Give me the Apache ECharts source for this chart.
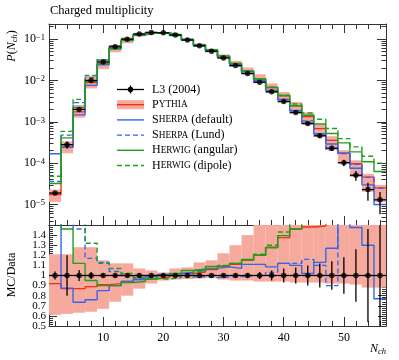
<!DOCTYPE html>
<html lang="en">
<head>
<meta charset="utf-8" />
<title>Charged multiplicity</title>
<script src="https://cdn.jsdelivr.net/npm/echarts@6/dist/echarts.min.js"></script>
<style>
    html, body { margin: 0; padding: 0; background: #fff; }
    #main { width: 399px; height: 360px; }
</style>
</head>
<body>
<div id="main"></div>
<script>
    // bin centres, every bin is 2 units wide
    var nch = [2, 4, 6, 8, 10, 12, 14, 16, 18, 20, 22, 24, 26, 28, 30, 32, 34, 36, 38, 40, 42, 44, 46, 48, 50, 52, 54, 56];

    // L3 (2004) data and its relative error
    var l3 = [1.9e-5, 2.8e-4, 2.0e-3, 1.0e-2, 2.8e-2, 6.5e-2, 0.099, 0.133, 0.145, 0.142, 0.125, 0.095, 0.069, 0.051,
        0.035, 0.023, 0.0147, 0.0091, 0.0053, 0.0031, 0.00168, 0.00091, 0.00046, 0.00023, 1.03e-4, 5.1e-5, 2.3e-5, 1.3e-5];
    var l3RelErr = [0.04, 0.2, 0.055, 0.035, 0.02, 0.015, 0.01, 0.01, 0.01, 0.01, 0.01, 0.01, 0.01, 0.012,
        0.015, 0.02, 0.025, 0.035, 0.05, 0.07, 0.08, 0.1, 0.12, 0.14, 0.18, 0.26, 0.46, 0.55];

    // MC / Data (off-scale bins)
    var pythiaRatio = [0.92, 0.87, 0.87, 0.89, 0.91, 0.92, 0.94, 0.96, 0.97, 0.98, 1.0, 1.02, 1.035, 1.06,
        1.09, 1.11, 1.15, 1.2, 1.28, 1.375, 1.46, 1.48, 1.49, 1.55, 1.7, 1.9, 2.0, 1.95];
    var pythiaBandLo = [0.61, 0.62, 0.63, 0.64, 0.67, 0.74, 0.8, 0.87, 0.92, 0.95, 0.96, 0.965, 0.97, 0.975,
        0.96, 0.95, 0.95, 0.94, 0.94, 0.94, 0.93, 0.93, 0.93, 0.92, 0.92, 0.91, 0.88, 0.88];
    var pythiaBandHi = [1.21, 1.21, 1.28, 1.28, 1.15, 1.12, 1.12, 1.07, 1.05, 1.03, 1.07, 1.08, 1.13, 1.15,
        1.22, 1.3, 1.4, 1.55, 1.6, 1.7, 1.8, 1.85, 1.9, 1.95, 2.0, 2.3, 2.4, 2.3];
    var sherpaRatio = [8.9, 0.875, 0.735, 0.76, 0.85, 0.9, 0.94, 0.96, 0.99, 1.01, 1.02, 1.03, 1.05, 1.07,
        1.085, 1.07, 1.11, 1.11, 1.085, 1.12, 1.1, 1.02, 1.13, 1.27, 1.7, 1.475, 1.3, 0.77];
    var sherpaLundRatio = [1.9, 1.7, 1.46, 1.17, 1.12, 1.04, 1.0, 0.975, 0.97, 1.0, 0.99, 0.985, 0.99, 0.98,
        0.985, 0.99, 1.0, 1.0, 1.03, 1.12, 1.12, 1.16, 1.1, 0.9, 1.65, 1.85, 2.0, 1.9];
    var herwigAngRatio = [1.7, 1.46, 1.12, 0.95, 0.9, 0.9, 0.93, 0.94, 0.965, 1.0, 1.02, 1.05, 1.065, 1.09,
        1.1, 1.12, 1.16, 1.2, 1.275, 1.395, 1.46, 1.59, 1.92, 2.27, 3.0, 3.67, 4.7, 4.85];
    var herwigDipRatio = [2.54, 2.1, 1.75, 1.32, 1.13, 1.07, 1.02, 0.98, 0.97, 0.965, 0.98, 1.0, 1.04, 1.07,
        1.1, 1.12, 1.15, 1.21, 1.3, 1.43, 1.6, 1.8, 2.5, 3.0, 3.8, 4.85, 6.4, 7.7];

    var legendNames = ['L3 (2004)', 'Pythia', 'Sherpa (default)', 'Sherpa (Lund)', 'Herwig (angular)', 'Herwig (dipole)'];
    var legendTexts = ['L3 (2004)', '{c|P}{s|YTHIA}', '{c|S}{s|HERPA} (default)', '{c|S}{s|HERPA} (Lund)',
        '{c|H}{s|ERWIG} (angular)', '{c|H}{s|ERWIG} (dipole)'];

    var RED = '#ee3311', BLUE = '#3366ee', GREEN = '#1f9e1f', BAND = '#f6a99d';
    var axisColor = '#333';
    var serif = 'Liberation Serif';

    function times(a, r) {
        return a.map(function (v, i) { return v * r[i]; });
    }
    function ones() {
        return nch.map(function () { return 1; });
    }

    function stepLine(name, xi, yi, vals, color, dashed) {
        var d = nch.map(function (x, i) { return [x - 1, vals[i]]; });
        d.push([nch[nch.length - 1] + 1, vals[vals.length - 1]]);
        return {
            name: name, type: 'line', xAxisIndex: xi, yAxisIndex: yi, step: 'end',
            data: d, showSymbol: false, symbol: 'none', silent: true, z: 3,
            lineStyle: { color: color, width: 1.4, type: dashed ? [5, 3] : 'solid' },
            itemStyle: { color: color }
        };
    }

    function band(xi, yi, lo, hi) {
        return {
            type: 'custom', xAxisIndex: xi, yAxisIndex: yi, z: 1, silent: true,
            encode: { x: [0, 1], y: [2, 3] },
            data: nch.map(function (x, i) { return [x - 1, x + 1, lo[i], hi[i]]; }),
            renderItem: function (params, api) {
                var p0 = api.coord([api.value(0), api.value(3)]);
                var p1 = api.coord([api.value(1), api.value(2)]);
                var rect = echarts.graphic.clipRectByRect(
                    { x: p0[0], y: p0[1], width: p1[0] - p0[0], height: p1[1] - p0[1] },
                    { x: params.coordSys.x, y: params.coordSys.y, width: params.coordSys.width, height: params.coordSys.height });
                return rect && { type: 'rect', shape: rect, style: { fill: BAND } };
            }
        };
    }

    function errorBars(xi, yi, vals) {
        return {
            type: 'custom', xAxisIndex: xi, yAxisIndex: yi, z: 4, silent: true, clip: true,
            encode: { x: 0, y: 1 },
            data: nch.map(function (x, i) { return [x, vals[i], vals[i] * (1 - l3RelErr[i]), vals[i] * (1 + l3RelErr[i])]; }),
            renderItem: function (params, api) {
                var x = api.value(0), y = api.value(1);
                var a = api.coord([x - 1, y]), b = api.coord([x + 1, y]);
                var lo = api.coord([x, api.value(2)]), hi = api.coord([x, api.value(3)]);
                var st = { stroke: '#000', lineWidth: 1.3 };
                return {
                    type: 'group', children: [
                        { type: 'line', shape: { x1: a[0], y1: a[1], x2: b[0], y2: b[1] }, style: st },
                        { type: 'line', shape: { x1: lo[0], y1: lo[1], x2: hi[0], y2: hi[1] }, style: st }
                    ]
                };
            }
        };
    }

    function points(xi, yi, vals) {
        return {
            name: 'L3 (2004)', type: 'scatter', xAxisIndex: xi, yAxisIndex: yi, z: 5, silent: true,
            symbolSize: 5.5, itemStyle: { color: '#000' },
            data: nch.map(function (x, i) { return [x, vals[i]]; })
        };
    }

    function xAxisDef(grid, pos, labels, ticks) {
        return {
            gridIndex: grid, type: 'value', min: 1, max: 57, splitNumber: 5, position: pos,
            axisLine: { show: true, onZero: false, lineStyle: { color: axisColor, width: 1 } },
            axisTick: { show: ticks, inside: true, length: 9, lineStyle: { color: axisColor } },
            minorTick: { show: ticks, splitNumber: 5, length: 5, lineStyle: { color: axisColor } },
            splitLine: { show: false },
            axisLabel: {
                show: labels, margin: 6, color: '#000', fontFamily: serif, fontSize: 12,
                formatter: function (v) { return v % 10 === 0 ? String(v) : ''; }
            }
        };
    }

    function logLabel(v) {
        var l = Math.log10(v), e = Math.round(l);
        if (Math.abs(l - e) > 1e-6) return '';
        return '{b|10}{s|\u2212' + Math.abs(e) + '}';
    }

    function logAxis(pos, labels) {
        return {
            gridIndex: 0, type: 'log', logBase: 10, min: 3.2e-6, max: 0.232, position: pos,
            axisLine: { show: true, lineStyle: { color: axisColor, width: 1 } },
            axisTick: { show: true, inside: true, length: 9, lineStyle: { color: axisColor } },
            minorTick: { show: true, splitNumber: 9, length: 4.5, lineStyle: { color: axisColor } },
            splitLine: { show: false },
            axisLabel: {
                show: labels, margin: 4, formatter: logLabel,
                rich: {
                    b: { fontFamily: serif, fontSize: 12, color: '#000', lineHeight: 12, verticalAlign: 'bottom' },
                    s: { fontFamily: serif, fontSize: 8.5, color: '#000', lineHeight: 9, verticalAlign: 'top', padding: [0, 0, 6, 0] }
                }
            }
        };
    }

    function ratioLabel(v) {
        var r = Math.round(v * 10) / 10;
        return r >= 1.5 ? '' : String(r);
    }

    function ratioAxis(pos, labels) {
        return {
            gridIndex: 1, type: 'value', min: 0.5, max: 1.5, interval: 0.1, position: pos,
            axisLine: { show: true, onZero: false, lineStyle: { color: axisColor, width: 1 } },
            axisTick: { show: true, inside: true, length: 8, lineStyle: { color: axisColor } },
            minorTick: { show: true, splitNumber: 5, length: 4, lineStyle: { color: axisColor } },
            splitLine: { show: false },
            axisLabel: {
                show: labels, margin: 3, color: '#000', fontFamily: serif, fontSize: 11,
                showMinLabel: false, formatter: ratioLabel
            }
        };
    }

    // the 0.5 label sits too close to 0.6 for ECharts, so it gets its own bare axis
    var ratioMinLabelAxis = {
        gridIndex: 1, type: 'value', min: 0.5, max: 1.5, interval: 0.1, position: 'left',
        axisLine: { show: false }, axisTick: { show: false }, splitLine: { show: false },
        axisLabel: {
            margin: 3, color: '#000', fontFamily: serif, fontSize: 11, showMinLabel: true,
            formatter: function (v) { return Math.round(v * 10) === 5 ? '0.5' : ''; }
        }
    };

    // legend drawn by hand, Rivet style
    var legendGraphics = [];
    var legendX0 = 117, legendX1 = 144, legendTextX = 152, legendY0 = 89.5, legendStep = 15.2;
    var legendStyles = [null, null, { c: BLUE, d: false }, { c: BLUE, d: true }, { c: GREEN, d: false }, { c: GREEN, d: true }];
    legendNames.forEach(function (name, i) {
        var y = legendY0 + i * legendStep;
        if (i === 0) {
            legendGraphics.push({ type: 'line', shape: { x1: legendX0, y1: y, x2: legendX1, y2: y }, style: { stroke: '#000', lineWidth: 1.3 } });
            legendGraphics.push({ type: 'line', shape: { x1: 130.5, y1: y - 4, x2: 130.5, y2: y + 4 }, style: { stroke: '#000', lineWidth: 1.3 } });
            legendGraphics.push({ type: 'circle', shape: { cx: 130.5, cy: y, r: 2.7 }, style: { fill: '#000' } });
        } else if (i === 1) {
            legendGraphics.push({ type: 'rect', shape: { x: legendX0, y: y - 4.5, width: legendX1 - legendX0, height: 9 }, style: { fill: BAND } });
            legendGraphics.push({ type: 'line', shape: { x1: legendX0, y1: y, x2: legendX1, y2: y }, style: { stroke: RED, lineWidth: 1.4 } });
        } else {
            var s = legendStyles[i];
            legendGraphics.push({ type: 'line', shape: { x1: legendX0, y1: y, x2: legendX1, y2: y }, style: { stroke: s.c, lineWidth: 1.4, lineDash: s.d ? [5, 3] : null } });
        }
        legendGraphics.push({
            type: 'text', x: legendTextX, y: y,
            style: {
                text: legendTexts[i], fill: '#000', fontFamily: serif, fontSize: 12, verticalAlign: 'middle', align: 'left',
                rich: {
                    c: { fontFamily: serif, fontSize: 12, fill: '#000' },
                    s: { fontFamily: serif, fontSize: 9.3, fill: '#000' }
                }
            }
        });
    });

    var axisTitles = [
        {
            type: 'text', x: 12, y: 46, rotation: Math.PI / 2,
            style: {
                text: '{i|P}({i|N}{sub|ch})', fill: '#000', fontFamily: serif, fontSize: 12, align: 'center', verticalAlign: 'middle',
                rich: {
                    i: { fontFamily: serif, fontStyle: 'italic', fontSize: 12, fill: '#000' },
                    sub: { fontFamily: serif, fontStyle: 'italic', fontSize: 8.5, fill: '#000', verticalAlign: 'bottom', padding: [5, 0, 0, 0] }
                }
            }
        },
        {
            type: 'text', x: 12, y: 275, rotation: Math.PI / 2,
            style: { text: 'MC/Data', fill: '#000', fontFamily: serif, fontSize: 12, align: 'center', verticalAlign: 'middle' }
        },
        {
            type: 'text', x: 386, y: 349,
            style: {
                text: '{i|N}{sub|ch}', fill: '#000', fontFamily: serif, fontSize: 12, align: 'right', verticalAlign: 'middle',
                rich: {
                    i: { fontFamily: serif, fontStyle: 'italic', fontSize: 12, fill: '#000' },
                    sub: { fontFamily: serif, fontStyle: 'italic', fontSize: 8.5, fill: '#000', verticalAlign: 'bottom', padding: [5, 0, 0, 0] }
                }
            }
        }
    ];

    var myChart = echarts.init(document.getElementById('main'), null, { renderer: 'canvas' });

    var option = {
        backgroundColor: '#fff',
        animation: false,
        title: {
            text: 'Charged multiplicity', left: 50, top: 4, padding: 0,
            textStyle: { fontFamily: serif, fontSize: 12.5, fontWeight: 'normal', color: '#000' }
        },
        grid: [
            { left: 49, top: 24, width: 337, height: 201 },
            { left: 49, top: 225, width: 337, height: 101 }
        ],
        xAxis: [
            xAxisDef(0, 'bottom', false, true),
            xAxisDef(0, 'top', false, true),
            xAxisDef(1, 'bottom', true, true),
            xAxisDef(1, 'top', false, false)
        ],
        yAxis: [
            logAxis('left', true),
            logAxis('right', false),
            ratioAxis('left', true),
            ratioAxis('right', false),
            ratioMinLabelAxis
        ],
        graphic: legendGraphics.concat(axisTitles),
        series: [
            // top panel
            band(0, 0, times(l3, pythiaBandLo), times(l3, pythiaBandHi)),
            stepLine('Pythia', 0, 0, times(l3, pythiaRatio), RED, false),
            stepLine('Sherpa (default)', 0, 0, times(l3, sherpaRatio), BLUE, false),
            stepLine('Sherpa (Lund)', 0, 0, times(l3, sherpaLundRatio), BLUE, true),
            stepLine('Herwig (angular)', 0, 0, times(l3, herwigAngRatio), GREEN, false),
            stepLine('Herwig (dipole)', 0, 0, times(l3, herwigDipRatio), GREEN, true),
            errorBars(0, 0, l3),
            points(0, 0, l3),
            // ratio panel
            band(2, 2, pythiaBandLo, pythiaBandHi),
            stepLine('Pythia', 2, 2, pythiaRatio, RED, false),
            stepLine('Sherpa (default)', 2, 2, sherpaRatio, BLUE, false),
            stepLine('Sherpa (Lund)', 2, 2, sherpaLundRatio, BLUE, true),
            stepLine('Herwig (angular)', 2, 2, herwigAngRatio, GREEN, false),
            stepLine('Herwig (dipole)', 2, 2, herwigDipRatio, GREEN, true),
            errorBars(2, 2, ones()),
            points(2, 2, ones())
        ]
    };
    myChart.setOption(option, true);
</script>
</body>
</html>
